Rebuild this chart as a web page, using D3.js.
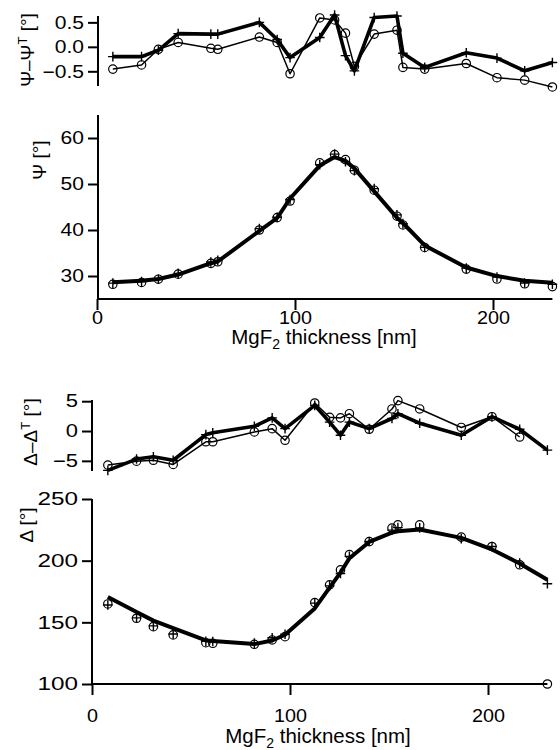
<!DOCTYPE html>
<html>
<head>
<meta charset="utf-8">
<script src="https://cdn.jsdelivr.net/npm/d3@7"></script>
<style>
html,body{margin:0;padding:0;background:#fff;}
svg{display:block;}
text{font-family:"Liberation Sans",Arial,Helvetica,sans-serif;fill:#000;}
</style>
</head>
<body>
<svg id="chart" width="560" height="750"></svg>
<script>
// ---------- data ----------
const thickness = [8, 22.5, 31, 41, 57.5, 61, 82, 91, 97.5, 112.5, 120, 125.5, 130, 140, 151.5, 154.5, 165.5, 186.5, 202, 216, 230];

const psiResCircle = [-0.455, -0.37, -0.05, 0.09, -0.03, -0.05, 0.2, 0.09, -0.55, 0.59, 0.55, 0.28, -0.4, 0.26, 0.34, -0.42, -0.455, -0.34, -0.63, -0.68, -0.82];
const psiResCross  = [-0.2, -0.2, -0.07, 0.27, 0.26, 0.26, 0.5, 0.15, -0.22, 0.19, 0.65, -0.18, -0.49, 0.6, 0.63, -0.13, -0.42, -0.12, -0.23, -0.49, -0.32];

const psiCircle = [28.2, 28.6, 29.3, 30.4, 32.75, 33.1, 40.0, 42.7, 46.3, 54.6, 56.4, 55.3, 53.0, 48.65, 43.0, 41.1, 36.2, 31.5, 29.35, 28.3, 27.7];
const psiCross  = [28.45, 28.77, 29.28, 30.58, 33.04, 33.41, 40.3, 42.76, 46.63, 54.2, 56.5, 54.84, 52.91, 48.99, 43.29, 41.39, 36.23, 31.72, 29.75, 28.49, 28.2];
const psiTheory = [28.65, 28.97, 29.35, 30.31, 32.78, 33.15, 39.8, 42.61, 46.85, 54.01, 55.85, 55.02, 53.4, 48.39, 42.66, 41.52, 36.65, 31.84, 29.98, 28.98, 28.52];

const deltaResCircle = [-5.7, -5.05, -4.9, -5.6, -1.8, -1.8, -0.15, 0.4, -1.55, 4.7, 2.3, 2.2, 2.9, 0.3, 3.7, 5.1, 3.7, 0.6, 2.4, -1.0, null];
const deltaResCross  = [-6.6, -4.7, -4.3, -4.9, -0.6, -0.3, 0.8, 2.2, 0.4, 4.3, 1.5, -0.7, 1.5, 0.4, 2.1, 2.9, 1.3, -0.7, 2.4, 0.3, -3.2];

const deltaCircle = [164.9, 153.3, 146.5, 139.8, 133.5, 133, 132.2, 135.7, 138.4, 166, 180.4, 192.5, 204.9, 215.5, 226.4, 229, 229, 219.1, 211.5, 196.7, 100];
const deltaCross  = [164, 153.65, 147.1, 140.5, 134.7, 134.5, 133.15, 137.5, 140.35, 165.6, 179.6, 189.6, 203.5, 215.6, 224.8, 226.8, 226.6, 217.8, 211.5, 198, 181.3];
const deltaTheory = [170.6, 158.35, 151.4, 145.4, 135.3, 134.8, 132.35, 135.3, 139.95, 161.3, 178.1, 190.3, 202, 215.2, 222.7, 223.9, 225.3, 218.5, 209.1, 197.7, 184.5];

const xTicks = [0, 100, 200];
const psiResTicks = [-0.5, 0.0, 0.5];
const psiTicks = [30, 40, 50, 60];
const deltaResTicks = [-5, 0, 5];
const deltaTicks = [100, 150, 200, 250];
const xTitle = "MgF";

// ---------- drawing ----------
const svg = d3.select("#chart");
const zip = (xs, ys) => xs.map((x, i) => ({x, y: ys[i]})).filter(d => d.y !== null && d.y !== undefined);

function yAxis(g, y, ticks, fmt, xpos, sx) {
  const ax = g.append("g").attr("transform", `translate(${xpos},0)`)
    .call(d3.axisLeft(y).tickValues(ticks).tickFormat(fmt).tickSize(10).tickPadding(4));
  ax.select(".domain").attr("stroke-width", 2).attr("d", `M0,${y.range()[0]}V${y.range()[1]}`);
  ax.selectAll(".tick line").attr("stroke-width", 2);
  ax.selectAll(".tick text").attr("font-size", 18)
    .style("font-family", '"Liberation Sans",Arial,sans-serif')
    .attr("x", 0).attr("transform", `translate(-14,0) scale(${sx},1)`);
  return ax;
}
function xAxis(g, x, ypos, pad) {
  const ax = g.append("g").attr("transform", `translate(0,${ypos})`)
    .call(d3.axisBottom(x).tickValues(xTicks).tickFormat(d3.format("d")).tickSize(11).tickPadding(pad));
  ax.select(".domain").attr("stroke-width", 2).attr("d", `M${x.range()[0]},0H${x.range()[1]}`);
  ax.selectAll(".tick line").attr("stroke-width", 2);
  ax.selectAll(".tick text").attr("font-size", 18)
    .style("font-family", '"Liberation Sans",Arial,sans-serif')
    .attr("transform", "scale(1.1,1)");
}
function drawLine(g, x, y, pts, w) {
  g.append("path").datum(pts)
    .attr("fill", "none").attr("stroke", "#000").attr("stroke-width", w)
    .attr("stroke-linejoin", "round")
    .attr("d", d3.line().x(d => x(d.x)).y(d => y(d.y)));
}
function drawCircles(g, x, y, pts) {
  g.append("g").selectAll("circle").data(pts).join("circle")
    .attr("cx", d => x(d.x)).attr("cy", d => y(d.y)).attr("r", 4.2)
    .attr("fill", "none").attr("stroke", "#000").attr("stroke-width", 1.2);
}
function drawCrosses(g, x, y, pts) {
  const s = 4.8;
  g.append("g").selectAll("path").data(pts).join("path")
    .attr("d", d => `M${x(d.x)-s},${y(d.y)}H${x(d.x)+s}M${x(d.x)},${y(d.y)-s}V${y(d.y)+s}`)
    .attr("stroke", "#000").attr("stroke-width", 1.4).attr("fill", "none");
}
function yTitle(g, xb, yc, parts) {
  const t = g.append("text").attr("transform", `translate(${xb},${yc}) rotate(-90)`)
    .attr("text-anchor", "middle").attr("font-size", 19);
  parts.forEach(p => {
    const s = t.append("tspan").text(p.t);
    if (p.sup) s.attr("baseline-shift", "super").attr("font-size", 13);
  });
}
function xTitleText(g, xc, yb) {
  const t = g.append("text").attr("x", xc).attr("y", yb).attr("text-anchor", "middle").attr("font-size", 20.5);
  t.append("tspan").text(xTitle);
  t.append("tspan").text("2").attr("font-size", 14).attr("dy", 5);
  t.append("tspan").text(" thickness [nm]").attr("dy", -5);
}

// Panel A: Psi - PsiT
{
  const g = svg.append("g");
  const x = d3.scaleLinear().domain([0, 230]).range([97, 552.4]);
  const y = d3.scaleLinear().domain([-0.8, 0.63]).range([86, 16]);
  yAxis(g, y, psiResTicks, d3.format(".1f"), 98, 1.17);
  drawLine(g, x, y, zip(thickness, psiResCircle), 1.5);
  drawLine(g, x, y, zip(thickness, psiResCross), 3.6);
  drawCircles(g, x, y, zip(thickness, psiResCircle));
  drawCrosses(g, x, y, zip(thickness, psiResCross));
  yTitle(g, 34, 50, [{t:"Ψ–Ψ"},{t:"T",sup:true},{t:" [°]"}]);
}
// Panel B: Psi
{
  const g = svg.append("g");
  const x = d3.scaleLinear().domain([0, 230]).range([97, 552.4]);
  const y = d3.scaleLinear().domain([25, 65]).range([299, 115]);
  yAxis(g, y, psiTicks, d3.format("d"), 98, 1.17);
  xAxis(g, x, 299, 1);
  drawLine(g, x, y, zip(thickness, psiTheory), 4);
  drawCircles(g, x, y, zip(thickness, psiCircle));
  drawCrosses(g, x, y, zip(thickness, psiCross));
  yTitle(g, 46, 160, [{t:"Ψ [°]"}]);
  xTitleText(g, 324, 344);
}
// Panel C: Delta - DeltaT
{
  const g = svg.append("g");
  const x = d3.scaleLinear().domain([0, 230]).range([92, 547.4]);
  const y = d3.scaleLinear().domain([-6.7, 5.2]).range([471, 400]);
  yAxis(g, y, deltaResTicks, d3.format("d"), 92, 1.22);
  drawLine(g, x, y, zip(thickness, deltaResCircle), 1.5);
  drawLine(g, x, y, zip(thickness, deltaResCross), 3.6);
  drawCircles(g, x, y, zip(thickness, deltaResCircle));
  drawCrosses(g, x, y, zip(thickness, deltaResCross));
  yTitle(g, 37, 432, [{t:"Δ–Δ"},{t:"T",sup:true},{t:" [°]"}]);
}
// Panel D: Delta
{
  const g = svg.append("g");
  const x = d3.scaleLinear().domain([0, 230]).range([92, 547.4]);
  const y = d3.scaleLinear().domain([100, 250]).range([684, 499]);
  yAxis(g, y, deltaTicks, d3.format("d"), 92, 1.35);
  xAxis(g, x, 684, 14);
  drawLine(g, x, y, zip(thickness, deltaTheory), 4);
  drawCircles(g, x, y, zip(thickness, deltaCircle));
  drawCrosses(g, x, y, zip(thickness, deltaCross));
  yTitle(g, 33, 525, [{t:"Δ [°]"}]);
  xTitleText(g, 318, 743);
}
</script>
</body>
</html>
